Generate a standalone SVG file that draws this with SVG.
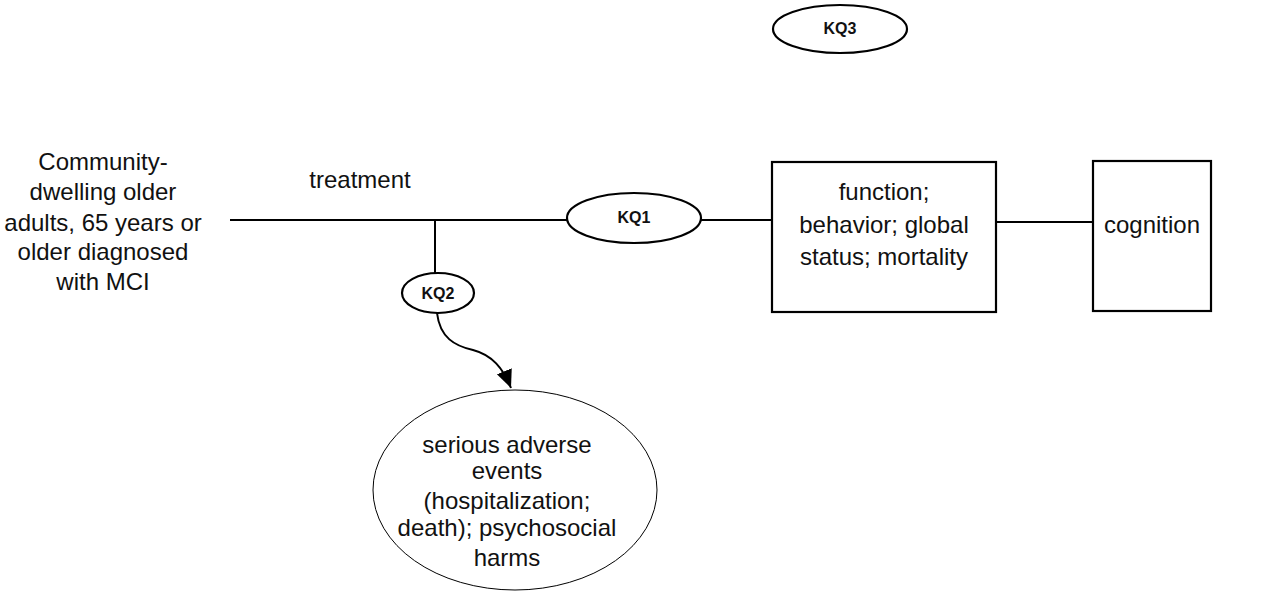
<svg xmlns="http://www.w3.org/2000/svg" width="1268" height="592" viewBox="0 0 1268 592">
<style>
.t{font-family:"Liberation Sans",Arial,sans-serif;font-size:24px;fill:#111;text-anchor:middle}
.k{font-family:"Liberation Sans",Arial,sans-serif;font-size:16px;font-weight:bold;fill:#111;text-anchor:middle}
.s{fill:#fff;stroke:#000;stroke-width:2.2}
.c{fill:none;stroke:#000;stroke-width:2}
</style>
<defs>
<marker id="ah2" viewBox="0 0 20 20" refX="18" refY="10" markerWidth="20" markerHeight="20" markerUnits="userSpaceOnUse" orient="auto">
<path d="M0,2 L18,10 L0,18 Z" fill="#000"/>
</marker>
</defs>
<rect width="1268" height="592" fill="#fff"/>
<g id="connectors">
<line class="c" x1="230" y1="220" x2="567" y2="220"/>
<line class="c" x1="701" y1="220" x2="772" y2="220"/>
<line class="c" x1="996" y1="222" x2="1093" y2="222"/>
<line class="c" x1="435" y1="220" x2="435" y2="273"/>
<path class="c" d="M437,313 C440,338 455,346 473,350 C492,355 503,368 511,388" marker-end="url(#ah2)"/>
</g>
<g id="population">
<text class="t" x="103" y="170">Community-</text>
<text class="t" x="103" y="200">dwelling older</text>
<text class="t" x="103" y="231">adults, 65 years or</text>
<text class="t" x="103" y="260">older diagnosed</text>
<text class="t" x="103" y="290">with MCI</text>
</g>
<g id="treatment-label">
<text class="t" x="360" y="188">treatment</text>
</g>
<g id="kq1">
<ellipse class="s" cx="634" cy="218" rx="67" ry="25"/>
<text class="k" x="634" y="223">KQ1</text>
</g>
<g id="kq2">
<ellipse class="s" cx="438" cy="293" rx="36" ry="20"/>
<text class="k" x="438" y="299">KQ2</text>
</g>
<g id="kq3">
<ellipse class="s" cx="840" cy="29" rx="67" ry="24"/>
<text class="k" x="840" y="34">KQ3</text>
</g>
<g id="outcomes">
<rect class="s" x="772" y="162" width="224" height="150"/>
<text class="t" x="884" y="200">function;</text>
<text class="t" x="884" y="233">behavior; global</text>
<text class="t" x="884" y="265">status; mortality</text>
</g>
<g id="cognition">
<rect class="s" x="1093" y="161" width="118" height="150"/>
<text class="t" x="1152" y="233">cognition</text>
</g>
<g id="harms">
<ellipse cx="515" cy="490" rx="142" ry="100" fill="#fff" stroke="#000" stroke-width="1"/>
<text class="t" x="507" y="453">serious adverse</text>
<text class="t" x="507" y="479">events</text>
<text class="t" x="507" y="509">(hospitalization;</text>
<text class="t" x="507" y="536">death); psychosocial</text>
<text class="t" x="507" y="566">harms</text>
</g>
</svg>
